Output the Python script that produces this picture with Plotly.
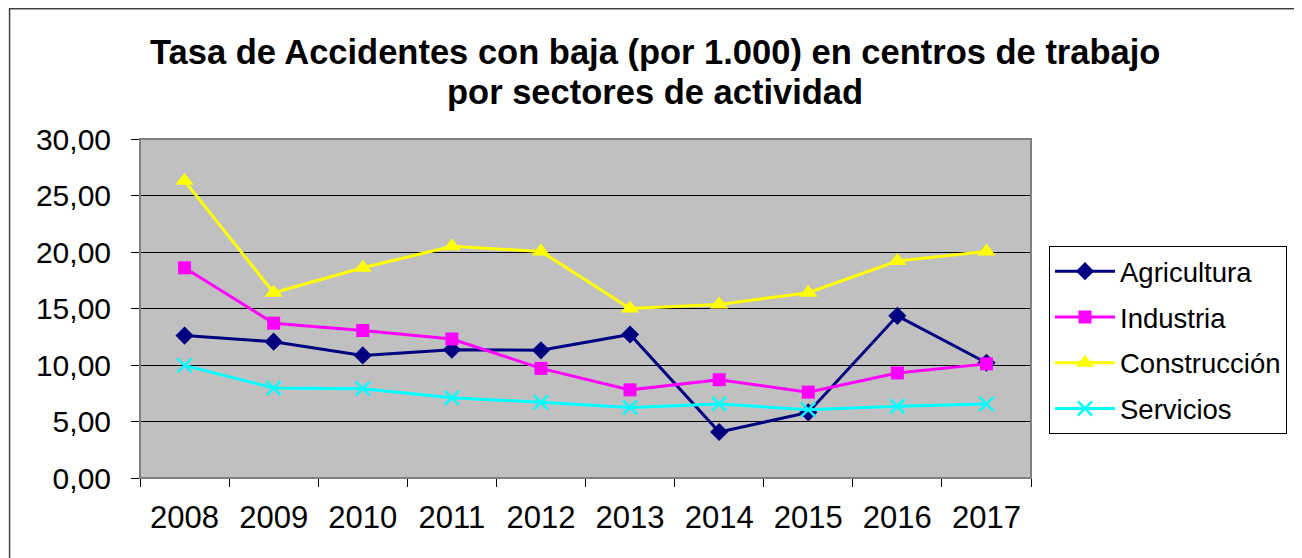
import plotly.graph_objects as go

years = ["2008", "2009", "2010", "2011", "2012", "2013", "2014", "2015", "2016", "2017"]
agricultura = [12.6, 12.06, 10.85, 11.35, 11.3, 12.7, 4.07, 5.8, 14.35, 10.2]
industria = [18.6, 13.7, 13.05, 12.3, 9.7, 7.8, 8.7, 7.6, 9.3, 10.1]
construccion = [26.3, 16.4, 18.6, 20.5, 20.05, 15.0, 15.35, 16.4, 19.2, 20.05]
servicios = [9.97, 7.96, 7.9, 7.1, 6.7, 6.25, 6.55, 6.05, 6.35, 6.55]
title_lines = ["Tasa de Accidentes con baja (por 1.000) en centros de trabajo",
               "por sectores de actividad"]
y_ticks = [0, 5, 10, 15, 20, 25, 30]

FONT = "Arial, Liberation Sans, sans-serif"
OFF = 8  # page body margin
W, H = 1302, 558
# target screen positions of the plot area
SX0, SX1, SY0, SY1 = 139.5, 1031, 139, 478.5
L = SX0 - OFF
T = SY0 - OFF
PW = SX1 - SX0
PH = SY1 - SY0
R = W - L - PW
B = H - T - PH

def px2paper_x(px):
    return (px - SX0) / PW

def px2paper_y(py):
    return (SY1 - py) / PH

fig = go.Figure()
series = [
    ("Agricultura", agricultura, "#000080", dict(symbol="diamond", size=14, color="#000080")),
    ("Industria", industria, "#FF00FF", dict(symbol="square", size=13, color="#FF00FF")),
    ("Construcción", construccion, "#FFFF00", dict(symbol="triangle-up", size=16, color="#FFFF00")),
    ("Servicios", servicios, "#00FFFF", dict(symbol="x-thin", size=14, color="#00FFFF",
                                             line=dict(color="#00FFFF", width=2.5))),
]
for i, (name, vals, col, mk) in enumerate(series):
    fig.add_trace(go.Scatter(x=years, y=vals, name=name, mode="lines+markers",
                             line=dict(color=col, width=3), marker=mk,
                             legendgroup=str(i)))

fig.update_layout(
    width=W, height=H,
    margin=dict(l=L, r=R, t=T, b=B, autoexpand=False),
    paper_bgcolor="white", plot_bgcolor="#C0C0C0",
    separators=",.",
    font=dict(family=FONT, color="black"),
    showlegend=True,
    legend=dict(x=px2paper_x(1049), y=px2paper_y(246), xanchor="left", yanchor="top",
                bgcolor="white", bordercolor="black", borderwidth=1,
                font=dict(size=27.5, family=FONT, color="black"),
                tracegroupgap=7, traceorder="grouped", itemwidth=60),
    xaxis=dict(type="category", tickson="boundaries", ticks="outside", ticklen=8,
               tickcolor="black", showline=True, linecolor="black", linewidth=1,
               showgrid=False, tickfont=dict(size=31, family=FONT, color="black"),
               ticklabelstandoff=12, range=[-0.5, 9.5], fixedrange=True),
    yaxis=dict(range=[0, 30], tickvals=y_ticks, tickformat=".2f", ticks="outside",
               ticklen=8, tickcolor="black", showline=True, linecolor="black", linewidth=1,
               showgrid=True, gridcolor="black", gridwidth=1, zeroline=False,
               tickfont=dict(size=30, family=FONT, color="black"),
               ticklabelstandoff=14, fixedrange=True),
)

# plot area border (gray)
fig.add_shape(type="rect", xref="paper", yref="paper", x0=0, y0=0, x1=1, y1=1,
              line=dict(color="#808080", width=2), layer="above")
# chart outer border (left edge as close to the page edge as the figure allows)
fig.add_shape(type="rect", xref="paper", yref="paper",
              x0=px2paper_x(OFF + 1), y0=px2paper_y(580), x1=px2paper_x(1330), y1=px2paper_y(8.5),
              line=dict(color="#404040", width=1.5), layer="below")

for txt, yc in zip(title_lines, [52, 92]):
    fig.add_annotation(text="<b>" + txt + "</b>", xref="paper", yref="paper",
                       x=px2paper_x(655), y=px2paper_y(yc), xanchor="center", yanchor="middle",
                       showarrow=False, font=dict(size=34.5, family=FONT, color="black"))

fig.write_html("out.html")
